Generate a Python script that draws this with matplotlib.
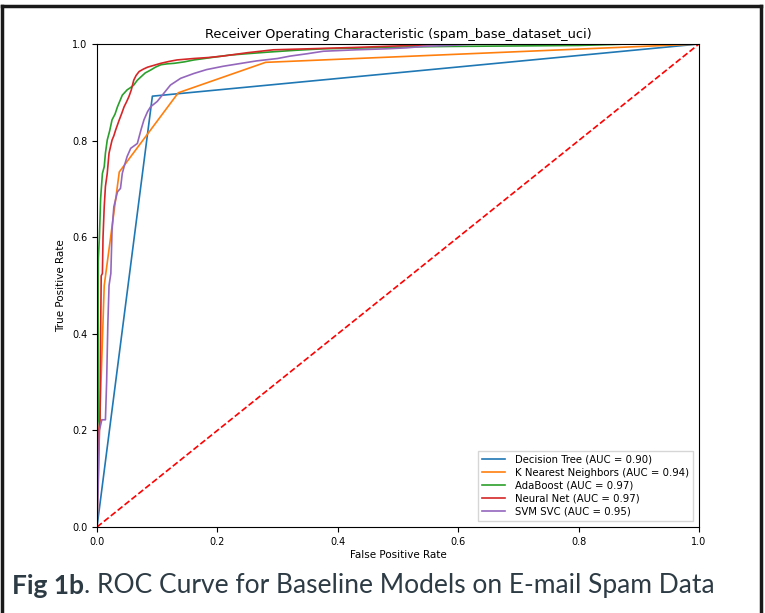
import matplotlib
matplotlib.use("Agg")
import matplotlib.pyplot as plt
from matplotlib.lines import Line2D

# ROC points
dt_fpr = [0.0, 0.092, 1.0]
dt_tpr = [0.0, 0.892, 1.0]

knn_fpr = [0.0, 0.004, 0.012, 0.037, 0.135, 0.28, 1.0]
knn_tpr = [0.0, 0.20, 0.50, 0.735, 0.899, 0.962, 1.0]

ada_fpr = [0.0, 0.0, 0.002, 0.002, 0.004, 0.006, 0.009, 0.012, 0.014, 0.017, 0.021,
           0.025, 0.030, 0.034, 0.038, 0.042, 0.050, 0.056, 0.061, 0.067, 0.073,
           0.080, 0.089, 0.097, 0.106, 0.117, 0.128, 0.145, 0.161, 0.19, 0.22,
           0.25, 0.282, 0.33, 0.375, 0.45, 0.52, 0.586, 0.70, 0.80, 0.857, 0.88, 1.0]
ada_tpr = [0.0, 0.20, 0.22, 0.55, 0.60, 0.68, 0.732, 0.746, 0.774, 0.801, 0.82,
           0.843, 0.855, 0.870, 0.882, 0.894, 0.905, 0.91, 0.915, 0.925, 0.932,
           0.94, 0.946, 0.952, 0.957, 0.959, 0.96, 0.963, 0.967, 0.972, 0.977,
           0.98, 0.983, 0.987, 0.99, 0.992, 0.994, 0.995, 0.996, 0.997, 0.999, 1.0, 1.0]

nn_fpr = [0.0, 0.0, 0.003, 0.005, 0.006, 0.007, 0.009, 0.010, 0.012, 0.014, 0.017,
          0.020, 0.025, 0.028, 0.031, 0.037, 0.041, 0.045, 0.049, 0.053, 0.057,
          0.061, 0.065, 0.070, 0.077, 0.084, 0.095, 0.106, 0.12, 0.133, 0.161,
          0.185, 0.209, 0.25, 0.293, 0.35, 0.431, 0.5, 0.586, 1.0]
nn_tpr = [0.0, 0.05, 0.20, 0.22, 0.40, 0.52, 0.525, 0.60, 0.663, 0.705, 0.732,
          0.774, 0.801, 0.81, 0.822, 0.843, 0.856, 0.87, 0.88, 0.891, 0.905,
          0.925, 0.935, 0.943, 0.948, 0.952, 0.956, 0.96, 0.964, 0.967, 0.97,
          0.972, 0.975, 0.982, 0.988, 0.99, 0.993, 0.996, 1.0, 1.0]

svm_fpr = [0.0, 0.002, 0.004, 0.008, 0.014, 0.016, 0.018, 0.020, 0.023, 0.025,
           0.028, 0.034, 0.039, 0.042, 0.045, 0.050, 0.056, 0.067, 0.073, 0.078,
           0.084, 0.089, 0.100, 0.111, 0.122, 0.139, 0.161, 0.182, 0.21, 0.24,
           0.265, 0.30, 0.321, 0.35, 0.376, 0.431, 0.48, 0.514, 0.542, 0.586, 0.63, 1.0]
svm_tpr = [0.0, 0.08, 0.20, 0.222, 0.222, 0.30, 0.42, 0.50, 0.525, 0.615,
           0.663, 0.694, 0.701, 0.732, 0.746, 0.767, 0.784, 0.794, 0.822, 0.843,
           0.86, 0.87, 0.881, 0.898, 0.915, 0.929, 0.939, 0.947, 0.954, 0.96,
           0.965, 0.97, 0.975, 0.98, 0.985, 0.988, 0.99, 0.992, 0.995, 0.997, 1.0, 1.0]

labels = ["Decision Tree (AUC = 0.90)", "K Nearest Neighbors (AUC = 0.94)",
          "AdaBoost (AUC = 0.97)", "Neural Net (AUC = 0.97)", "SVM SVC (AUC = 0.95)"]
ticks = [0.0, 0.2, 0.4, 0.6, 0.8, 1.0]

fig = plt.figure(figsize=(7.65, 6.13), dpi=100)
ax = fig.add_axes([97 / 765, 1 - 527 / 613, 602 / 765, 483 / 613])

lw = 1.2
ax.plot(dt_fpr, dt_tpr, color="#1f77b4", lw=lw, label=labels[0])
ax.plot(knn_fpr, knn_tpr, color="#ff7f0e", lw=lw, label=labels[1])
ax.plot(ada_fpr, ada_tpr, color="#2ca02c", lw=lw, label=labels[2])
ax.plot(nn_fpr, nn_tpr, color="#d62728", lw=lw, label=labels[3])
ax.plot(svm_fpr, svm_tpr, color="#9467bd", lw=lw, label=labels[4])
ax.plot([0, 1], [0, 1], "r--", lw=1.2)

ax.set_xlim(0, 1)
ax.set_ylim(0, 1)
ax.set_xticks(ticks)
ax.set_yticks(ticks)
ax.tick_params(labelsize=7, length=3.5, width=0.8)
ax.set_xlabel("False Positive Rate", fontsize=7.5, labelpad=2)
ax.set_ylabel("True Positive Rate", fontsize=7.5, labelpad=4)
ax.set_title("Receiver Operating Characteristic (spam_base_dataset_uci)", fontsize=9.3, pad=4)
ax.legend(loc="lower right", fontsize=7.3, handlelength=2.2, handletextpad=1.0,
          labelspacing=0.3, fancybox=False, edgecolor="#cccccc",
          borderaxespad=0.6)

# page frame around the figure
frame_col = "#1a1a1a"
for xs, ys in [([2 / 765, 2 / 765], [0, 1 - 6 / 613]),
               ([761 / 765, 761 / 765], [0, 1 - 6 / 613]),
               ([2 / 765, 761 / 765], [1 - 6 / 613, 1 - 6 / 613])]:
    fig.add_artist(Line2D(xs, ys, transform=fig.transFigure, color=frame_col, lw=2.5))

cap_col = "#2d3b45"
t1 = fig.text(12 / 765, 1 - 598 / 613, "Fig 1b", family="Lato", weight="bold",
              fontsize=19, color=cap_col, va="bottom")
ax.annotate(". ROC Curve for Baseline Models on E-mail Spam Data", xy=(1, 0),
            xycoords=t1, family="Lato", fontsize=19, color=cap_col, va="bottom",
            annotation_clip=False)

fig.savefig("out.png", dpi=100)
